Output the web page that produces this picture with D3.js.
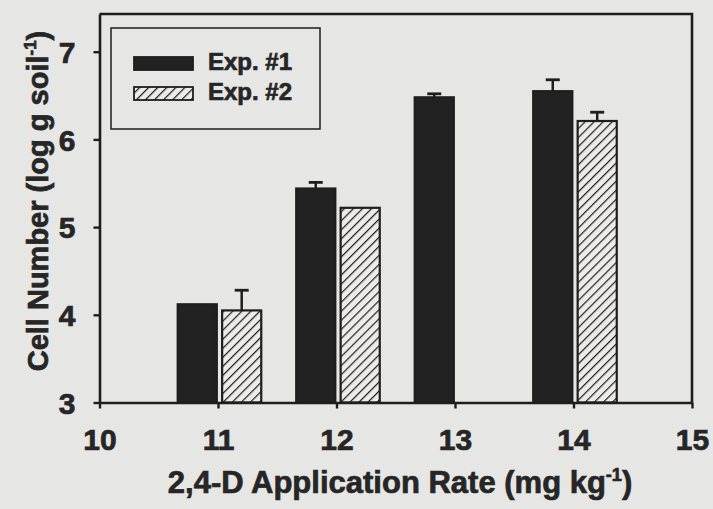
<!DOCTYPE html>
<html>
<head>
<meta charset="utf-8">
<script src="https://cdn.jsdelivr.net/npm/d3@7"></script>
<style>
  html, body { margin: 0; padding: 0; background: #e6e6e4; }
  svg { display: block; }
  text { font-family: "Liberation Sans", Arial, sans-serif; font-weight: 700; fill: #262626; stroke: #262626; stroke-width: 0.7px; }
</style>
</head>
<body>
<svg id="chart" width="713" height="509"></svg>
<script>
// Application rates (mg kg^-1) on the x axis
const rates = [11, 12, 13, 14];
// Mean cell numbers (log g soil^-1) per experiment; null = not measured
const exp1 = [4.12, 5.44, 6.48, 6.55];
const exp2 = [4.05, 5.22, null, 6.21];
// Upper error (standard error) for each bar
const exp1Err = [0, 0.07, 0.04, 0.13];
const exp2Err = [0.23, 0, null, 0.10];
const seriesNames = ["Exp. #1", "Exp. #2"];
const xTicks = [10, 11, 12, 13, 14, 15];
const yTicks = [3, 4, 5, 6, 7];

const svg = d3.select("#chart");
const ink = "#1e1e1e";

const x = d3.scaleLinear().domain([10, 15]).range([99.5, 692]);
const y = d3.scaleLinear().domain([3, 7.43]).range([402.5, 14]);

// hatch pattern for the second experiment
const hs = 6.4;
const defs = svg.append("defs");
const pat = defs.append("pattern")
  .attr("id", "hatch")
  .attr("patternUnits", "userSpaceOnUse")
  .attr("width", hs).attr("height", hs)
  .attr("patternTransform", "rotate(45)");
pat.append("rect").attr("width", hs).attr("height", hs).attr("fill", "#ecebea");
pat.append("line").attr("x1", 0).attr("y1", 0).attr("x2", 0).attr("y2", hs)
  .attr("stroke", ink).attr("stroke-width", 2.4);

const barW = x(10.33) - x(10);
const offsets = [-0.34, 0.035];

const series = [
  { name: seriesNames[0], values: exp1, err: exp1Err, fill: "#222" },
  { name: seriesNames[1], values: exp2, err: exp2Err, fill: "url(#hatch)" }
];

const bars = svg.append("g");
series.forEach((s, si) => {
  rates.forEach((r, i) => {
    const v = s.values[i];
    if (v == null) return;
    const x0 = x(r + offsets[si]);
    bars.append("rect")
      .attr("x", x0).attr("y", y(v))
      .attr("width", barW).attr("height", y(3) - y(v))
      .attr("fill", s.fill)
      .attr("stroke", ink).attr("stroke-width", 2.2);
    const e = s.err[i];
    if (e > 0) {
      const cx = x0 + barW / 2;
      bars.append("line")
        .attr("x1", cx).attr("x2", cx)
        .attr("y1", y(v)).attr("y2", y(v + e))
        .attr("stroke", ink).attr("stroke-width", 2.5);
      bars.append("line")
        .attr("x1", cx - 7).attr("x2", cx + 7)
        .attr("y1", y(v + e)).attr("y2", y(v + e))
        .attr("stroke", ink).attr("stroke-width", 2.8);
    }
  });
});

// frame (top and right edges)
svg.append("path")
  .attr("d", `M${x(10)},${y(7.43)}H${x(15)}V${y(3)}`)
  .attr("fill", "none").attr("stroke", ink).attr("stroke-width", 2.6);

// axes
const xAxis = svg.append("g")
  .attr("transform", `translate(0,${y(3)})`)
  .call(d3.axisBottom(x).tickValues(xTicks).tickFormat(d3.format("d"))
    .tickSize(6).tickSizeOuter(0).tickPadding(20));
const yAxis = svg.append("g")
  .attr("transform", `translate(${x(10)},0)`)
  .call(d3.axisLeft(y).tickValues(yTicks).tickFormat(d3.format("d"))
    .tickSize(6).tickSizeOuter(0).tickPadding(18));

[xAxis, yAxis].forEach(g => {
  g.attr("font-family", null).attr("font-size", null);
  g.select(".domain").attr("stroke", ink).attr("stroke-width", 2.6);
  g.selectAll(".tick line").attr("stroke", ink).attr("stroke-width", 2.4);
  g.selectAll(".tick text").attr("font-size", 30).attr("fill", "#262626");
});
yAxis.selectAll(".tick text").attr("dy", "0.36em");

// axis titles with superscripts
const xt = svg.append("text")
  .attr("x", 400).attr("y", 493)
  .attr("text-anchor", "middle").attr("font-size", 31);
xt.append("tspan").text("2,4-D Application Rate (mg kg");
xt.append("tspan").attr("font-size", 18).attr("dy", -12).text("-1");
xt.append("tspan").attr("dy", 12).text(")");

const yt = svg.append("text")
  .attr("transform", `translate(48,${201}) rotate(-90)`)
  .attr("text-anchor", "middle").attr("font-size", 29);
yt.append("tspan").text("Cell Number (log g soil");
yt.append("tspan").attr("font-size", 17).attr("dy", -12).text("-1");
yt.append("tspan").attr("dy", 12).text(")");

// legend
const lg = svg.append("g");
lg.append("rect")
  .attr("x", 111).attr("y", 28).attr("width", 209).attr("height", 101)
  .attr("fill", "none").attr("stroke", ink).attr("stroke-width", 1.5);
series.forEach((s, i) => {
  const yy = 57 + i * 30;
  lg.append("rect")
    .attr("x", 134).attr("y", yy).attr("width", 59).attr("height", 13)
    .attr("fill", s.fill).attr("stroke", ink).attr("stroke-width", 1.8);
  lg.append("text")
    .attr("x", 208).attr("y", yy + 13)
    .attr("font-size", 24).text(s.name);
});
</script>
</body>
</html>
